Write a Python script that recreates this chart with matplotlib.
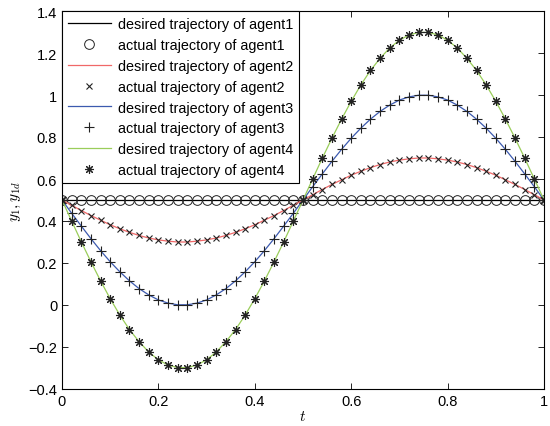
import numpy as np
import matplotlib
matplotlib.use("Agg")
import matplotlib.pyplot as plt

plt.rcParams['font.family'] = ['Liberation Sans', 'DejaVu Sans']
plt.rcParams['mathtext.fontset'] = 'cm'

t = np.linspace(0, 1, 51)

agent1 = [0.5] * 51
agent2 = [0.5, 0.475, 0.450, 0.426, 0.404, 0.382, 0.363, 0.346, 0.331, 0.319, 0.310, 0.304, 0.300,
          0.300, 0.304, 0.310, 0.319, 0.331, 0.346, 0.363, 0.382, 0.404, 0.426, 0.450, 0.475, 0.5,
          0.525, 0.550, 0.574, 0.596, 0.618, 0.637, 0.654, 0.669, 0.681, 0.690, 0.696, 0.700,
          0.700, 0.696, 0.690, 0.681, 0.669, 0.654, 0.637, 0.618, 0.596, 0.574, 0.550, 0.525, 0.5]
agent3 = [0.5, 0.437, 0.376, 0.316, 0.259, 0.206, 0.158, 0.115, 0.078, 0.048, 0.024, 0.009, 0.001,
          0.001, 0.009, 0.024, 0.048, 0.078, 0.115, 0.158, 0.206, 0.259, 0.316, 0.376, 0.437, 0.5,
          0.563, 0.624, 0.684, 0.741, 0.794, 0.842, 0.885, 0.922, 0.952, 0.976, 0.991, 0.999,
          0.999, 0.991, 0.976, 0.952, 0.922, 0.885, 0.842, 0.794, 0.741, 0.684, 0.624, 0.563, 0.5]
agent4 = [0.5, 0.400, 0.301, 0.206, 0.115, 0.030, -0.048, -0.117, -0.175, -0.224, -0.261, -0.286, -0.298,
          -0.298, -0.286, -0.261, -0.224, -0.175, -0.117, -0.048, 0.030, 0.115, 0.206, 0.301, 0.400, 0.5,
          0.600, 0.699, 0.794, 0.885, 0.970, 1.048, 1.117, 1.175, 1.224, 1.261, 1.286, 1.298,
          1.298, 1.286, 1.261, 1.224, 1.175, 1.117, 1.048, 0.970, 0.885, 0.794, 0.699, 0.600, 0.5]

labels_desired = ["desired trajectory of agent%d" % i for i in range(1, 5)]
labels_actual = ["actual trajectory of agent%d" % i for i in range(1, 5)]
xticks = [0, 0.2, 0.4, 0.6, 0.8, 1]
yticks = [-0.4, -0.2, 0, 0.2, 0.4, 0.6, 0.8, 1, 1.2, 1.4]

fig = plt.figure(figsize=(5.5, 4.27), dpi=100)
ax = fig.add_axes([62/550, 1 - 390/427, (544-62)/550, (390-12)/427])

colors = ['#000000', '#f06868', '#3c5aaf', '#9acd5a']
markers = ['o', 'x', '+', (8, 2, 0)]
msizes = [7, 4.5, 6.5, 6.5]
series = [agent1, agent2, agent3, agent4]
for i in range(4):
    ax.plot(t, series[i], color=colors[i], lw=0.9, label=labels_desired[i])
    if i == 0:
        ax.plot(t, series[i], ls='none', marker='o', mfc='none', mec='#222222', ms=msizes[i],
                mew=0.7, label=labels_actual[i])
    else:
        ax.plot(t, series[i], ls='none', marker=markers[i], color='#222222', ms=msizes[i],
                mew=0.8, label=labels_actual[i])

ax.set_xlim(0, 1)
ax.set_ylim(-0.4, 1.4)
ax.set_xticks(xticks)
ax.set_xticklabels(['0', '0.2', '0.4', '0.6', '0.8', '1'])
ax.set_yticks(yticks)
ax.set_yticklabels(['\u22120.4', '\u22120.2', '0', '0.2', '0.4', '0.6', '0.8', '1', '1.2', '1.4'])
ax.tick_params(direction='in', top=True, right=True, labelsize=10.5, length=4, width=0.6)
for sp in ax.spines.values():
    sp.set_linewidth(0.8)

ax.set_xlabel('$t$', fontsize=11, labelpad=1)
ax.set_ylabel('$y_1, y_{1d}$', fontsize=11, labelpad=4)

leg = ax.legend(loc='upper left', fontsize=10.4, frameon=True, fancybox=False, edgecolor='black',
                borderaxespad=0, handlelength=3.0, handletextpad=0.5, labelspacing=0.48,
                borderpad=0.4, framealpha=1)
leg.get_frame().set_linewidth(0.8)

fig.savefig('out.png', dpi=100)
